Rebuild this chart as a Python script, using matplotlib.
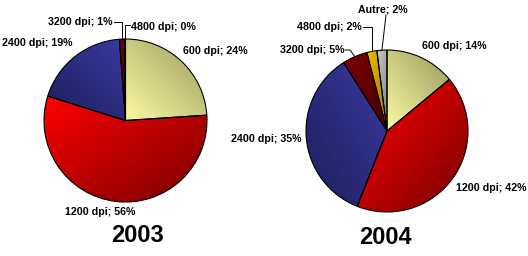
import numpy as np
import matplotlib
matplotlib.use('Agg')
import matplotlib.pyplot as plt
from matplotlib.colors import LinearSegmentedColormap

plt.rcParams['font.family'] = ['Liberation Sans', 'DejaVu Sans']

# data
labels_2003 = ['600 dpi', '1200 dpi', '2400 dpi', '3200 dpi', '4800 dpi']
values_2003 = [24, 56, 19, 1, 0.2]
pct_2003 = [24, 56, 19, 1, 0]

labels_2004 = ['600 dpi', '1200 dpi', '2400 dpi', '3200 dpi', '4800 dpi', 'Autre']
values_2004 = [14, 42, 35, 5, 2, 2]
pct_2004 = [14, 42, 35, 5, 2, 2]

# light, dark, gradient direction (deg)
shades = {
    '600 dpi': ('#FAFAA2', '#9A9A5E', 45),
    '1200 dpi': ('#FF0000', '#780000', -45),
    '2400 dpi': ('#3A3AA2', '#1E1E5A', 225),
    '3200 dpi': ('#7C0000', '#480000', -45),
    '4800 dpi': ('#ECBC00', '#9C7400', -45),
    'Autre': ('#CACACA', '#7E7E7E', -45),
}

H = 256
fig = plt.figure(figsize=(5.28, 2.56), dpi=100)
ax = fig.add_axes([0, 0, 1, 1])


def shade(wedge, light, dark, ang):
    cmap = LinearSegmentedColormap.from_list('g', [light, dark])
    bb = wedge.get_path().get_extents()
    n = 64
    X, Y = np.meshgrid(np.linspace(0, 1, n), np.linspace(0, 1, n))
    a = np.deg2rad(ang)
    g = X * np.cos(a) + Y * np.sin(a)
    g = (g - g.min()) / (g.max() - g.min())
    im = ax.imshow(g, extent=(bb.x0, bb.x1, bb.y0, bb.y1), origin='lower',
                   cmap=cmap, interpolation='bilinear', zorder=1)
    im.set_clip_path(wedge)
    wedge.set_facecolor('none')
    wedge.set_zorder(2)


def draw_pie(labels, values, cx, cy, r):
    wedges, _ = ax.pie(values, center=(cx, H - cy), radius=r, startangle=90,
                       counterclock=False,
                       wedgeprops=dict(edgecolor='black', linewidth=0.8))
    for w, lab in zip(wedges, labels):
        shade(w, *shades[lab])
    return wedges


def rim(w, frac=1.0):
    a = np.deg2rad((w.theta1 + w.theta2) / 2)
    return w.center[0] + w.r * frac * np.cos(a), w.center[1] + w.r * frac * np.sin(a)


def label(x, y, s, ha='left'):
    ax.text(x, H - y, s, ha=ha, va='center', fontsize=7.7, fontweight='bold')


w1 = draw_pie(labels_2003, values_2003, 125.5, 120.5, 81.5)
w2 = draw_pie(labels_2004, values_2004, 387, 131, 81)

t1 = [f'{l}; {p}%' for l, p in zip(labels_2003, pct_2003)]
t2 = [f'{l}; {p}%' for l, p in zip(labels_2004, pct_2004)]

# 2003 labels
label(183, 51, t1[0])
label(65, 212, t1[1])
label(2, 43, t1[2])
label(113, 22, t1[3], ha='right')
label(131, 27, t1[4])

# 2003 leaders
x, y = rim(w1[3])
ax.plot([x, x, 114], [y, H - 22, H - 22], color='black', lw=0.7, zorder=3)
x, y = rim(w1[4])
ax.plot([x, x, 130], [y, H - 25, H - 25], color='black', lw=0.7, zorder=3)

# 2004 labels
label(422, 46, t2[0])
label(456, 188, t2[1])
label(231, 139, t2[2])
label(344, 50, t2[3], ha='right')
label(362, 27, t2[4], ha='right')
label(383, 10, t2[5], ha='center')

# 2004 leaders
x, y = rim(w2[3])
ax.plot([x, 350, 345], [y, H - 50, H - 50], color='black', lw=0.7, zorder=3)
x, y = rim(w2[4])
ax.plot([x, x, 363], [y, H - 27, H - 27], color='black', lw=0.7, zorder=3)
x, y = rim(w2[5])
ax.plot([x, 386], [y, H - 15], color='black', lw=0.7, zorder=3)

# years
ax.text(138, H - 235, '2003', ha='center', va='center', fontsize=17, fontweight='bold')
ax.text(385, H - 237, '2004', ha='center', va='center', fontsize=17, fontweight='bold')

ax.set_xlim(0, 528)
ax.set_ylim(0, H)
ax.set_aspect('auto')
ax.axis('off')

fig.savefig('out.png', dpi=100)
